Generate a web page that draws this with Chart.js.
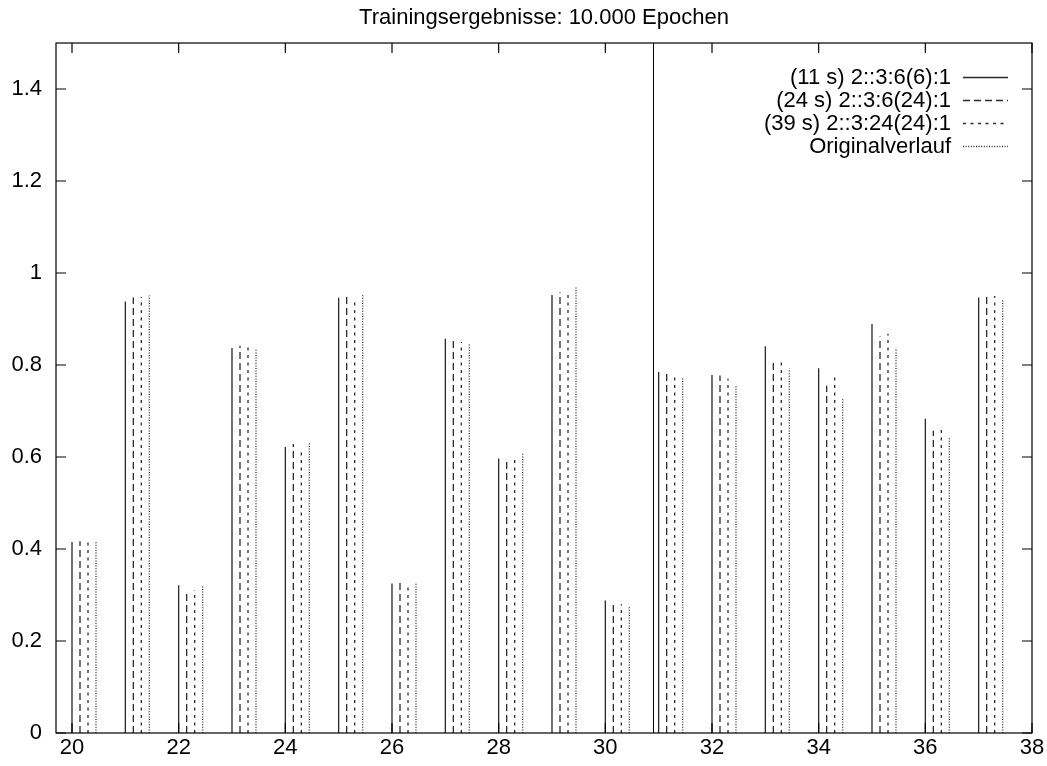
<!DOCTYPE html>
<html>
<head>
<meta charset="utf-8">
<script src="https://cdn.jsdelivr.net/npm/chart.js@4.4.1/dist/chart.umd.min.js"></script>
<style>
html,body{margin:0;padding:0;background:#fff;}
#wrap{width:1047px;height:766px;}
canvas{display:block;}
</style>
</head>
<body>
<div id="wrap"><canvas id="c" width="1047" height="766"></canvas></div>
<script>
// ---- data ----
const titleText = 'Trainingsergebnisse: 10.000 Epochen';
const categories = [20,21,22,23,24,25,26,27,28,29,30,31,32,33,34,35,36,37];
const seriesLabels = ['(11 s) 2::3:6(6):1', '(24 s) 2::3:6(24):1', '(39 s) 2::3:24(24):1', 'Originalverlauf'];
const series1 = [0.415,0.938,0.321,0.837,0.622,0.946,0.325,0.857,0.597,0.952,0.288,0.785,0.778,0.841,0.793,0.889,0.683,0.947];
const series2 = [0.417,0.947,0.309,0.842,0.628,0.949,0.326,0.853,0.598,0.958,0.281,0.784,0.777,0.805,0.755,0.862,0.657,0.953];
const series3 = [0.419,0.948,0.311,0.844,0.617,0.938,0.318,0.850,0.602,0.953,0.280,0.777,0.770,0.809,0.774,0.868,0.668,0.950];
const series4 = [0.418,0.951,0.320,0.835,0.630,0.952,0.325,0.845,0.608,0.969,0.277,0.774,0.757,0.792,0.729,0.837,0.642,0.943];
const xTickValues = [20,22,24,26,28,30,32,34,36,38];
const xTickLabels = ['20','22','24','26','28','30','32','34','36','38'];
const yTickValues = [0,0.2,0.4,0.6,0.8,1.0,1.2,1.4];
const yTickLabels = ['0','0.2','0.4','0.6','0.8','1','1.2','1.4'];
const separatorX = 30.9;

// ---- styling ----
const FONT = {family: "'Liberation Sans', Arial, Helvetica, sans-serif", size: 22, weight: 'normal'};
const allSeries = [series1, series2, series3, series4];
const offsets = [0, 0.15, 0.30, 0.45];
const dashes = [[], [7, 4], [3, 4.5], [1, 1.6]];
const lineColor = '#2a2a2a';

function impulses(values, off) {
  const pts = [];
  categories.forEach((c, i) => {
    pts.push({x: c + off, y: 0});
    pts.push({x: c + off, y: values[i]});
    pts.push({x: c + off, y: null});
  });
  return pts;
}

const datasets = allSeries.map((vals, k) => ({
  label: seriesLabels[k],
  data: impulses(vals, offsets[k]),
  borderColor: lineColor,
  borderWidth: 1.3,
  borderDash: dashes[k],
  pointRadius: 0,
  pointHoverRadius: 0,
  fill: false,
  spanGaps: false,
  tension: 0
}));

const gnuplotDecor = {
  id: 'gnuplotDecor',
  afterDatasetsDraw(chart) {
    const ctx = chart.ctx;
    const a = chart.chartArea;
    const xs = chart.scales.x, ys = chart.scales.y;
    const tl = 10;
    ctx.save();
    ctx.strokeStyle = '#000';
    ctx.lineWidth = 1.2;
    ctx.setLineDash([]);
    // separator
    const sx = Math.round(xs.getPixelForValue(separatorX)) + 0.5;
    ctx.beginPath();
    ctx.moveTo(sx, a.top);
    ctx.lineTo(sx, a.bottom);
    ctx.lineWidth = 1;
    ctx.stroke();
    ctx.lineWidth = 1.2;
    // frame
    ctx.strokeRect(a.left, a.top, a.right - a.left, a.bottom - a.top);
    // ticks (inward, mirrored)
    ctx.beginPath();
    xs.ticks.forEach(t => {
      const px = xs.getPixelForValue(t.value);
      ctx.moveTo(px, a.bottom); ctx.lineTo(px, a.bottom - tl);
      ctx.moveTo(px, a.top); ctx.lineTo(px, a.top + tl);
    });
    ys.ticks.forEach(t => {
      const py = ys.getPixelForValue(t.value);
      ctx.moveTo(a.left, py); ctx.lineTo(a.left + tl, py);
      ctx.moveTo(a.right, py); ctx.lineTo(a.right - tl, py);
    });
    ctx.stroke();
    // legend (gnuplot style: right-aligned text, sample on the right)
    const lineRight = a.right - 24;
    const lineLeft = lineRight - 45;
    const textRight = lineLeft - 12;
    const y0 = a.top + 33.5;
    const dy = 23.3;
    ctx.font = `${FONT.weight} ${FONT.size}px ${FONT.family}`;
    ctx.fillStyle = '#000';
    ctx.textAlign = 'right';
    ctx.textBaseline = 'middle';
    chart.data.datasets.forEach((ds, i) => {
      const y = y0 + i * dy;
      ctx.fillText(ds.label, textRight, y + 1);
      ctx.beginPath();
      ctx.setLineDash(ds.borderDash || []);
      ctx.strokeStyle = ds.borderColor;
      ctx.lineWidth = ds.borderWidth;
      ctx.moveTo(lineLeft, Math.round(y) + 0.5);
      ctx.lineTo(lineRight, Math.round(y) + 0.5);
      ctx.stroke();
    });
    ctx.restore();
  }
};

new Chart(document.getElementById('c'), {
  type: 'line',
  data: {datasets},
  plugins: [gnuplotDecor],
  options: {
    responsive: false,
    animation: false,
    events: [],
    layout: {padding: {left: 0, right: 15, top: 0, bottom: 0}},
    plugins: {
      legend: {display: false},
      tooltip: {enabled: false},
      title: {
        display: true,
        text: titleText,
        color: '#000',
        font: FONT,
        fullSize: false,
        padding: {top: 5, bottom: 11.6}
      }
    },
    scales: {
      x: {
        type: 'linear',
        min: 19.7,
        max: 38,
        grid: {display: false, drawTicks: false, drawOnChartArea: false},
        border: {display: false},
        afterBuildTicks: s => { s.ticks = xTickValues.map(v => ({value: v})); },
        afterFit: s => { s.height = 33; },
        ticks: {
          color: '#000',
          font: FONT,
          padding: 2,
          maxRotation: 0,
          autoSkip: false,
          callback: v => xTickLabels[xTickValues.indexOf(v)]
        }
      },
      y: {
        type: 'linear',
        min: 0,
        max: 1.5,
        grid: {display: false, drawTicks: false, drawOnChartArea: false},
        border: {display: false},
        afterBuildTicks: s => { s.ticks = yTickValues.map(v => ({value: v})); },
        afterFit: s => { s.width = 56; },
        ticks: {
          color: '#000',
          font: FONT,
          padding: 14,
          autoSkip: false,
          callback: v => {
            const i = yTickValues.findIndex(t => Math.abs(t - v) < 1e-9);
            return i >= 0 ? yTickLabels[i] : '';
          }
        }
      }
    }
  }
});
</script>
</body>
</html>
